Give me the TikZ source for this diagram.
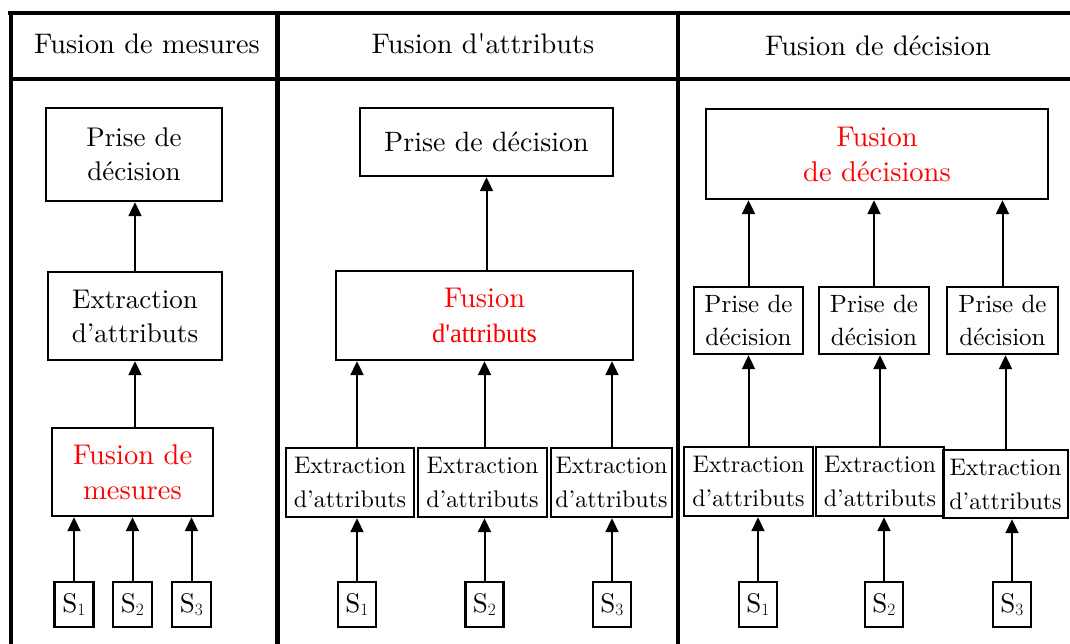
\documentclass[tikz,border=0pt]{standalone}
\usepackage{fontspec}
\setmainfont{lmroman10-regular.otf}[BoldFont=lmroman10-bold.otf,ItalicFont=lmroman10-italic.otf]
\newfontfamily\timesfont{Liberation Serif}
\usetikzlibrary{arrows.meta}
\begin{document}
\begin{tikzpicture}[x=1pt,y=-1pt,
  box/.style={draw,line width=2.4pt,inner sep=1pt,align=center,font=\fontsize{24}{34}\selectfont},
  bigbox/.style={box,font=\fontsize{27}{34}\selectfont},
  redbox/.style={box,text=red,font=\fontsize{28.5}{35}\selectfont},
  sbox/.style={draw,line width=2.4pt,inner sep=0pt,minimum width=39pt,minimum height=45pt,font=\fontsize{27}{30}\selectfont},
  frameline/.style={line width=4.5pt},
  arr/.style={line width=2pt,-{Triangle[width=13pt,length=14pt]}},
  head/.style={font=\fontsize{28.3}{30}\selectfont}]
\useasboundingbox (0,0) rectangle (1070,644);
% frame
\draw[frameline] (8,13) -- (1070,13);
\draw[frameline] (11,79) -- (1070,79);
\draw[frameline] (11,11) -- (11,644);
\draw[frameline] (277.5,11) -- (277.5,644);
\draw[frameline] (678,11) -- (678,644);
% headers
\node[head] (h1) at (147,44) {Fusion de mesures};
\node[head] (h2) at (483,44) {Fusion d\textquotesingle attributs};
\node[head] (h3) at (878,46) {Fusion de décision};
% column 1
\node[bigbox,minimum width=176pt,minimum height=93pt] (p1) at (134,154.5) {Prise de\\décision};
\node[bigbox,minimum width=174pt,minimum height=88pt] (e1) at (135,316) {Extraction\\d’attributs};
\node[redbox,minimum width=161pt,minimum height=88pt] (f1) at (132.5,472) {Fusion de\\mesures};
\node[sbox] (s11) at (74,604.5) {S$_1$};
\node[sbox] (s12) at (132.5,604.5) {S$_2$};
\node[sbox] (s13) at (191.5,604.5) {S$_3$};
\foreach \s in {s11,s12,s13}
  \draw[arr] (\s.north) -- (\s.north |- f1.south);
\draw[arr] (e1.south |- f1.north) -- (e1.south);
\draw[arr] (e1.north) -- (e1.north |- p1.south);
% column 2
\node[box,font=\fontsize{28}{34}\selectfont,minimum width=253pt,minimum height=68pt] (p2) at (486.5,142) {Prise de décision};
\node[redbox,minimum width=297pt,minimum height=89pt] (f2) at (484.5,315.5) {Fusion\\{\timesfont\fontsize{26.5}{35}\selectfont d\textquotesingle attributs}};
\node[box,minimum width=128pt,minimum height=69pt] (e21) at (350,482.5) {Extraction\\d’attributs};
\node[box,minimum width=129pt,minimum height=69pt] (e22) at (482.5,482.5) {Extraction\\d’attributs};
\node[box,minimum width=121pt,minimum height=69pt] (e23) at (611.5,482.5) {Extraction\\d’attributs};
\node[sbox,minimum width=38pt] (s21) at (357,604.5) {S$_1$};
\node[sbox,minimum width=38pt] (s22) at (484.5,604.5) {S$_2$};
\node[sbox,minimum width=38pt] (s23) at (612,604.5) {S$_3$};
\draw[arr] (s21.north) -- (s21.north |- e21.south);
\draw[arr] (s22.north) -- (s22.north |- e22.south);
\draw[arr] (s23.north) -- (s23.north |- e23.south);
\draw[arr] (s21.north |- e21.north) -- (s21.north |- f2.south);
\draw[arr] (s22.north |- e22.north) -- (s22.north |- f2.south);
\draw[arr] (s23.north |- e23.north) -- (s23.north |- f2.south);
\draw[arr] (p2.south |- f2.north) -- (p2.south);
% column 3
\node[redbox,minimum width=342pt,minimum height=90pt] (f3) at (877,154) {Fusion\\de décisions};
\node[box,font=\fontsize{25}{33}\selectfont,minimum width=109pt,minimum height=67pt] (p31) at (748.5,320.5) {Prise de\\décision};
\node[box,font=\fontsize{25}{33}\selectfont,minimum width=110pt,minimum height=67pt] (p32) at (874,320.5) {Prise de\\décision};
\node[box,font=\fontsize{25}{33}\selectfont,minimum width=111pt,minimum height=67pt] (p33) at (1002.5,320.5) {Prise de\\décision};
\node[box,minimum width=129pt,minimum height=69pt] (e31) at (748.5,481.5) {Extraction\\d’attributs};
\node[box,minimum width=128pt,minimum height=69pt] (e32) at (880,481.5) {Extraction\\d’attributs};
\node[box,minimum width=125pt,minimum height=68pt] (e33) at (1005.5,484) {Extraction\\d’attributs};
\node[sbox,minimum width=38pt] (s31) at (758,604.5) {S$_1$};
\node[sbox,minimum width=38pt] (s32) at (884,604.5) {S$_2$};
\node[sbox,minimum width=38pt] (s33) at (1012,604.5) {S$_3$};
\draw[arr] (s31.north) -- (s31.north |- e31.south);
\draw[arr] (s32.north) -- (s32.north |- e32.south);
\draw[arr] (s33.north) -- (s33.north |- e33.south);
\draw[arr] (e31.north) -- (e31.north |- p31.south);
\draw[arr] (e32.north) -- (e32.north |- p32.south);
\draw[arr] (e33.north) -- (e33.north |- p33.south);
\draw[arr] (p31.north) -- (p31.north |- f3.south);
\draw[arr] (p32.north) -- (p32.north |- f3.south);
\draw[arr] (p33.north) -- (p33.north |- f3.south);
\end{tikzpicture}
\end{document}
